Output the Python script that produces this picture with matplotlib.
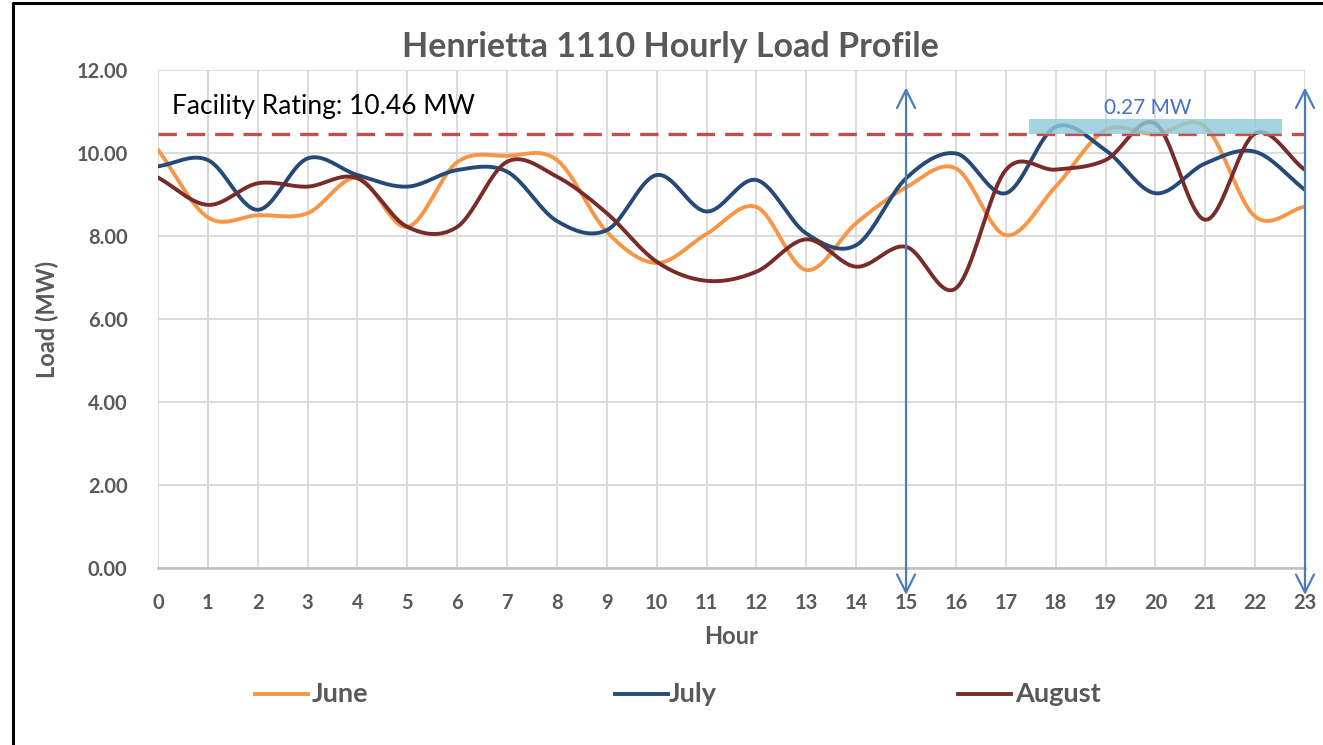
import numpy as np
import matplotlib
matplotlib.use("Agg")
import matplotlib.pyplot as plt
from matplotlib.patches import Rectangle, FancyArrowPatch
from matplotlib.lines import Line2D

plt.rcParams['font.family'] = ['Lato', 'DejaVu Sans']

hours = list(range(24))
june = [10.08, 8.45, 8.50, 8.55, 9.40, 8.22, 9.78, 9.93, 9.83, 8.10, 7.35, 8.05,
        8.70, 7.18, 8.31, 9.17, 9.63, 8.02, 9.19, 10.55, 10.45, 10.63, 8.47, 8.71]
july = [9.68, 9.83, 8.63, 9.87, 9.47, 9.19, 9.59, 9.55, 8.36, 8.14, 9.47, 8.59,
        9.35, 8.06, 7.78, 9.39, 9.99, 9.03, 10.63, 10.07, 9.03, 9.75, 10.03, 9.11]
august = [9.41, 8.75, 9.27, 9.19, 9.39, 8.22, 8.22, 9.79, 9.43, 8.55, 7.38, 6.92,
          7.14, 7.92, 7.26, 7.74, 6.74, 9.59, 9.60, 9.83, 10.71, 8.39, 10.47, 9.59]
series_names = ["June", "July", "August"]
series_colors = ["#F79646", "#264A78", "#772C2A"]
rating = 10.46
margin_band = (17.47, 22.54, 10.45, 10.82)
margin_label = "0.27 MW"
arrow_hours = [15, 23]
y_ticks = [0, 2, 4, 6, 8, 10, 12]


def smooth(x, y, n=20):
    x = np.asarray(x, float)
    y = np.asarray(y, float)
    px = np.concatenate([[2 * x[0] - x[1]], x, [2 * x[-1] - x[-2]]])
    py = np.concatenate([[2 * y[0] - y[1]], y, [2 * y[-1] - y[-2]]])
    xs, ys = [], []
    t = np.linspace(0, 1, n, endpoint=False)
    for i in range(1, len(px) - 2):
        p0, p1, p2, p3 = py[i - 1], py[i], py[i + 1], py[i + 2]
        m1 = (p2 - p0) / 2.0
        m2 = (p3 - p1) / 2.0
        h00 = 2 * t**3 - 3 * t**2 + 1
        h10 = t**3 - 2 * t**2 + t
        h01 = -2 * t**3 + 3 * t**2
        h11 = t**3 - t**2
        ys.append(h00 * p1 + h10 * m1 + h01 * p2 + h11 * m2)
        xs.append(px[i] + t * (px[i + 1] - px[i]))
    xs.append([x[-1]])
    ys.append([y[-1]])
    return np.concatenate(xs), np.concatenate(ys)


W, H = 1323, 745
fig = plt.figure(figsize=(W / 100, H / 100), dpi=100)
ax = fig.add_axes([158 / W, 1 - 568 / H, (1305 - 158) / W, (568 - 70) / H])

ax.set_xlim(0, 23)
ax.set_ylim(0, 12)
ax.set_xticks(hours)
ax.set_yticks(y_ticks)
ax.set_yticklabels([f"{v:.2f}" for v in y_ticks])
ax.grid(True, color="#D9D9D9", linewidth=1.3)
ax.set_axisbelow(True)
for s in ["top", "right", "left"]:
    ax.spines[s].set_visible(False)
ax.spines["bottom"].set_color("#BFBFBF")
ax.spines["bottom"].set_linewidth(1.8)
ax.axvline(1, color="#BDBDBD", linewidth=1.3, zorder=0.5)
ax.tick_params(axis="both", length=0, labelsize=14.5, labelcolor="#595959")
ax.tick_params(axis="x", pad=18)
ax.tick_params(axis="y", pad=22)
for lab in ax.get_xticklabels() + ax.get_yticklabels():
    lab.set_fontweight("bold")

for name, vals, col in zip(series_names, [june, july, august], series_colors):
    sx, sy = smooth(hours, vals)
    ax.plot(sx, sy, color=col, linewidth=2.8, solid_capstyle="round", zorder=3)

ax.plot([0, 23], [rating, rating], color="#C0504D", linewidth=2.4,
        linestyle=(0, (5.5, 3.0)), zorder=4, clip_on=False)

x0, x1, y0, y1 = margin_band
ax.add_patch(Rectangle((x0, y0), x1 - x0, y1 - y0, facecolor="#8ECADB",
                       alpha=0.8, edgecolor="none", zorder=5))
ax.text((x0 + x1) / 2 - 0.15, y1 + 0.02, margin_label, color="#4472C4",
        fontsize=15, ha="center", va="bottom", zorder=6)

ax.text(0.28, 11.12, f"Facility Rating: {rating:.2f} MW", fontsize=19,
        color="black", ha="left", va="center", zorder=6)

for h in arrow_hours:
    arr = FancyArrowPatch((h, -0.65), (h, 11.58), arrowstyle="<->,head_length=10,head_width=5",
                          color="#4A7EBB", linewidth=1.6, mutation_scale=1.3,
                          clip_on=False, zorder=7, shrinkA=0, shrinkB=0)
    ax.add_patch(arr)

ax.set_xlabel("Hour", fontsize=17, fontweight="bold", color="#595959", labelpad=9)
ax.set_ylabel("Load (MW)", fontsize=17, fontweight="bold", color="#595959", labelpad=12)

fig.text(0.5065, 1 - 47 / H, "Henrietta 1110 Hourly Load Profile", fontsize=24.5,
         fontweight="bold", color="#595959", ha="center", va="center")

# legend built manually for evenly spaced entries
leg_y = 1 - 694 / H
leg_pos = [(255, 312), (615, 669), (958, 1015)]
for (lx0, tx), name, col in zip(leg_pos, series_names, series_colors):
    fig.add_artist(Line2D([lx0 / W, (lx0 + 53) / W], [leg_y, leg_y], color=col,
                          linewidth=2.8, transform=fig.transFigure))
    fig.text(tx / W, leg_y, name, fontsize=19.5, fontweight="bold", color="#595959",
             ha="left", va="center")

# outer chart frame
fig.add_artist(Line2D([13 / W, 13 / W, 1.0], [0.0, 1 - 3 / H, 1 - 3 / H],
                      color="black", linewidth=2.2, transform=fig.transFigure))

fig.savefig("out.png", dpi=100)
